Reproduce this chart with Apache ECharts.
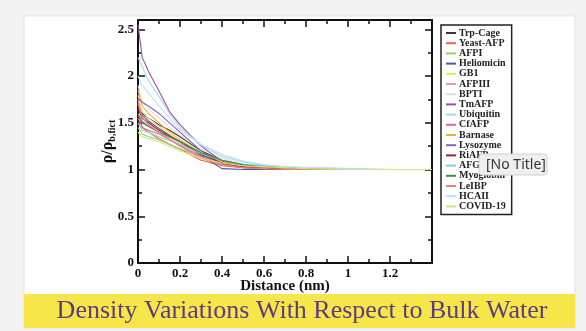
<!DOCTYPE html>
<html><head><meta charset="utf-8">
<script src="https://cdn.jsdelivr.net/npm/echarts@6/dist/echarts.min.js"></script>
<style>html,body{margin:0;padding:0;background:#f2f2f2}#c{width:586px;height:331px}</style>
</head><body><div id="c"></div>
<script>
// ---- data ----
var xs = [0, 0.02, 0.05, 0.1, 0.15, 0.2, 0.3, 0.4, 0.5, 0.6, 0.7, 0.8, 1.0, 1.2, 1.4];
var names = ['Trp-Cage','Yeast-AFP','AFPI','Heliomicin','GB1','AFPIII','BPTI','TmAFP','Ubiquitin','CfAFP','Barnase','Lysozyme','RiAFP','AFGP','Myoglobin','LeIBP','HCAII','COVID-19'];
var colors = ['#3a3a3a','#f0604a','#8fd46a','#4b56a8','#f2e45a','#d9a89c','#dcdcdc','#9b4fa6','#a9d5f0','#e5659b','#f3ac3c','#8d5fc4','#8c2648','#7fd3cc','#3f8a46','#f3806e','#bcdff3','#cfe57a'];
var trpCage    = [1.66, 1.60, 1.55, 1.48, 1.42, 1.35, 1.20, 1.10, 1.05, 1.02, 1.01, 1.00, 1.00, 1.00, 1.00];
var yeastAFP   = [1.60, 1.45, 1.40, 1.33, 1.27, 1.22, 1.10, 1.04, 1.02, 1.01, 1.00, 1.00, 1.00, 1.00, 1.00];
var afpI       = [1.45, 1.38, 1.35, 1.32, 1.27, 1.22, 1.14, 1.08, 1.05, 1.03, 1.02, 1.01, 1.00, 1.00, 1.00];
var heliomicin = [1.72, 1.58, 1.52, 1.44, 1.37, 1.30, 1.15, 1.01, 1.00, 1.00, 1.00, 1.00, 1.00, 1.00, 1.00];
var gb1        = [1.80, 1.62, 1.55, 1.46, 1.38, 1.30, 1.18, 1.10, 1.05, 1.03, 1.02, 1.01, 1.00, 1.00, 1.00];
var afpIII     = [1.75, 1.52, 1.47, 1.40, 1.34, 1.28, 1.16, 1.08, 1.04, 1.02, 1.01, 1.00, 1.00, 1.00, 1.00];
var bpti       = [1.90, 1.72, 1.65, 1.55, 1.45, 1.37, 1.22, 1.12, 1.06, 1.03, 1.02, 1.01, 1.00, 1.00, 1.00];
var tmAFP      = [2.55, 2.20, 2.05, 1.84, 1.62, 1.48, 1.25, 1.09, 1.03, 1.01, 1.00, 1.00, 1.00, 1.00, 1.00];
var ubiquitin  = [2.20, 2.10, 1.95, 1.78, 1.60, 1.45, 1.26, 1.14, 1.08, 1.05, 1.03, 1.02, 1.01, 1.00, 1.00];
var cfAFP      = [1.55, 1.45, 1.42, 1.38, 1.32, 1.26, 1.14, 1.06, 1.03, 1.01, 1.00, 1.00, 1.00, 1.00, 1.00];
var barnase    = [1.85, 1.68, 1.60, 1.50, 1.40, 1.32, 1.18, 1.08, 1.04, 1.02, 1.01, 1.00, 1.00, 1.00, 1.00];
var lysozyme   = [1.76, 1.72, 1.68, 1.60, 1.50, 1.40, 1.20, 1.06, 1.02, 1.01, 1.00, 1.00, 1.00, 1.00, 1.00];
var riAFP      = [1.65, 1.55, 1.50, 1.42, 1.36, 1.30, 1.16, 1.07, 1.03, 1.01, 1.00, 1.00, 1.00, 1.00, 1.00];
var afgp       = [1.50, 1.42, 1.40, 1.35, 1.31, 1.27, 1.17, 1.10, 1.06, 1.04, 1.02, 1.01, 1.00, 1.00, 1.00];
var myoglobin  = [1.60, 1.50, 1.46, 1.40, 1.35, 1.30, 1.18, 1.10, 1.05, 1.03, 1.02, 1.01, 1.00, 1.00, 1.00];
var leIBP      = [1.70, 1.56, 1.48, 1.40, 1.32, 1.25, 1.12, 1.05, 1.02, 1.01, 1.00, 1.00, 1.00, 1.00, 1.00];
var hcaII      = [2.00, 1.90, 1.82, 1.68, 1.55, 1.42, 1.27, 1.16, 1.09, 1.05, 1.03, 1.02, 1.01, 1.00, 1.00];
var covid19    = [1.40, 1.35, 1.33, 1.30, 1.25, 1.20, 1.12, 1.07, 1.04, 1.03, 1.02, 1.01, 1.00, 1.00, 1.00];
var values = [trpCage, yeastAFP, afpI, heliomicin, gb1, afpIII, bpti, tmAFP, ubiquitin, cfAFP, barnase, lysozyme, riAFP, afgp, myoglobin, leIBP, hcaII, covid19];
var xMajor = [0, 0.2, 0.4, 0.6, 0.8, 1, 1.2, 1.4];
var xLabels = [0, 0.2, 0.4, 0.6, 0.8, 1, 1.2];
var xMinor = [0.1, 0.3, 0.5, 0.7, 0.9, 1.1, 1.3];
var yMajor = [0, 0.5, 1, 1.5, 2, 2.5];
var yMinor = [0.25, 0.75, 1.25, 1.75, 2.25];
var xTitle = 'Distance (nm)';
var bannerTitle = 'Density Variations With Respect to Bulk Water';

// ---- chart ----
var SERIF = '"Liberation Serif", "DejaVu Serif", serif';
var lineCol = '#111';
function xAx(pos, major, showLabel, len, withLine) {
  return {
    type: 'value', position: pos, min: 0, max: 1.4,
    axisLine: {show: withLine, onZero: false, lineStyle: {color: lineCol, width: 2}},
    axisTick: {show: true, inside: true, length: len, customValues: major, lineStyle: {color: lineCol, width: 1.5}},
    axisLabel: showLabel ? {show: true, customValues: xLabels, color: '#111', fontFamily: SERIF, fontSize: 13, fontWeight: 'bold', margin: 4,
      formatter: function (v) { return String(v); }} : {show: false},
    splitLine: {show: false}
  };
}
function yAx(pos, major, showLabel, len, withLine) {
  return {
    type: 'value', position: pos, min: 0, max: 2.6,
    axisLine: {show: withLine, onZero: false, lineStyle: {color: lineCol, width: 2}},
    axisTick: {show: true, inside: true, length: len, customValues: major, lineStyle: {color: lineCol, width: 1.5}},
    axisLabel: showLabel ? {show: true, customValues: yMajor, color: '#111', fontFamily: SERIF, fontSize: 13, fontWeight: 'bold', margin: 4,
      formatter: function (v) { return String(v); }} : {show: false},
    splitLine: {show: false}
  };
}
var xAxes = [xAx('bottom', xMajor, true, 7, true), xAx('bottom', xMinor, false, 4, false), xAx('top', xMajor, false, 7, true), xAx('top', xMinor, false, 4, false)];
xAxes[0].name = xTitle;
xAxes[0].nameLocation = 'middle';
xAxes[0].nameGap = 16;
xAxes[0].nameMoveOverlap = false;
xAxes[0].nameTextStyle = {fontFamily: SERIF, fontSize: 15, fontWeight: 'bold', color: '#111', verticalAlign: 'top'};
var yAxes = [yAx('left', yMajor, true, 7, true), yAx('left', yMinor, false, 4, false), yAx('right', yMajor, false, 7, true), yAx('right', yMinor, false, 4, false)];
yAxes[0].name = '{a|ρ/ρ}{b|b,fict}';
yAxes[0].nameLocation = 'middle';
yAxes[0].nameGap = 21;
yAxes[0].nameMoveOverlap = false;
yAxes[0].nameRotate = 90;
yAxes[0].nameTextStyle = {color: '#111', verticalAlign: 'bottom', rich: {
  a: {fontFamily: SERIF, fontSize: 16, fontWeight: 'bold', color: '#111'},
  b: {fontFamily: SERIF, fontSize: 10, fontWeight: 'bold', color: '#111', padding: [9, 0, 0, 0]}
}};

var series = names.map(function (n, i) {
  return {
    name: n, type: 'line', xAxisIndex: 0, yAxisIndex: 0,
    showSymbol: false, symbol: 'none', smooth: false, animation: false,
    lineStyle: {color: colors[i], width: 1.1}, itemStyle: {color: colors[i]},
    data: xs.map(function (x, j) { return [x, values[i][j]]; })
  };
});

var chart = echarts.init(document.getElementById('c'), null, {renderer: 'canvas'});
chart.setOption({
  backgroundColor: '#f2f2f2',
  animation: false,
  grid: {left: 138, right: 154, top: 20, bottom: 68, containLabel: false},
  xAxis: xAxes,
  yAxis: yAxes,
  legend: {
    orient: 'vertical', left: 441, top: 25,
    data: names, icon: 'rect', itemWidth: 10, itemHeight: 2, itemGap: 0.2,
    padding: [3, 6, 3, 5],
    borderColor: '#222', borderWidth: 1.5, backgroundColor: '#fff',
    textStyle: {fontFamily: SERIF, fontSize: 10, fontWeight: 'bold', lineHeight: 10, color: '#222', padding: [0, 0, 0, -2]},
    selectedMode: false
  },
  graphic: [
    {type: 'rect', z: -10, shape: {x: 24, y: 16, width: 551, height: 312}, style: {fill: '#ffffff', stroke: '#e4e4e4', lineWidth: 1}},
    {type: 'rect', z: -9, shape: {x: 24, y: 294, width: 551, height: 34}, style: {fill: '#f6e64a'}},
    {type: 'text', z: -8, x: 302, y: 311, style: {text: bannerTitle, fill: '#5b3c7e', font: '26px "Liberation Serif", serif', textAlign: 'center', textVerticalAlign: 'middle'}},
    {type: 'rect', z: 100, shape: {x: 479, y: 154, width: 68, height: 21, r: 3}, style: {fill: '#efefef', stroke: '#d2d2d2', lineWidth: 1}},
    {type: 'text', z: 101, x: 486, y: 165, style: {text: '[No Title]', fill: '#333', font: '14px "Noto Sans", "DejaVu Sans", sans-serif', textAlign: 'left', textVerticalAlign: 'middle'}}
  ],
  series: series
});
</script>
</body></html>
